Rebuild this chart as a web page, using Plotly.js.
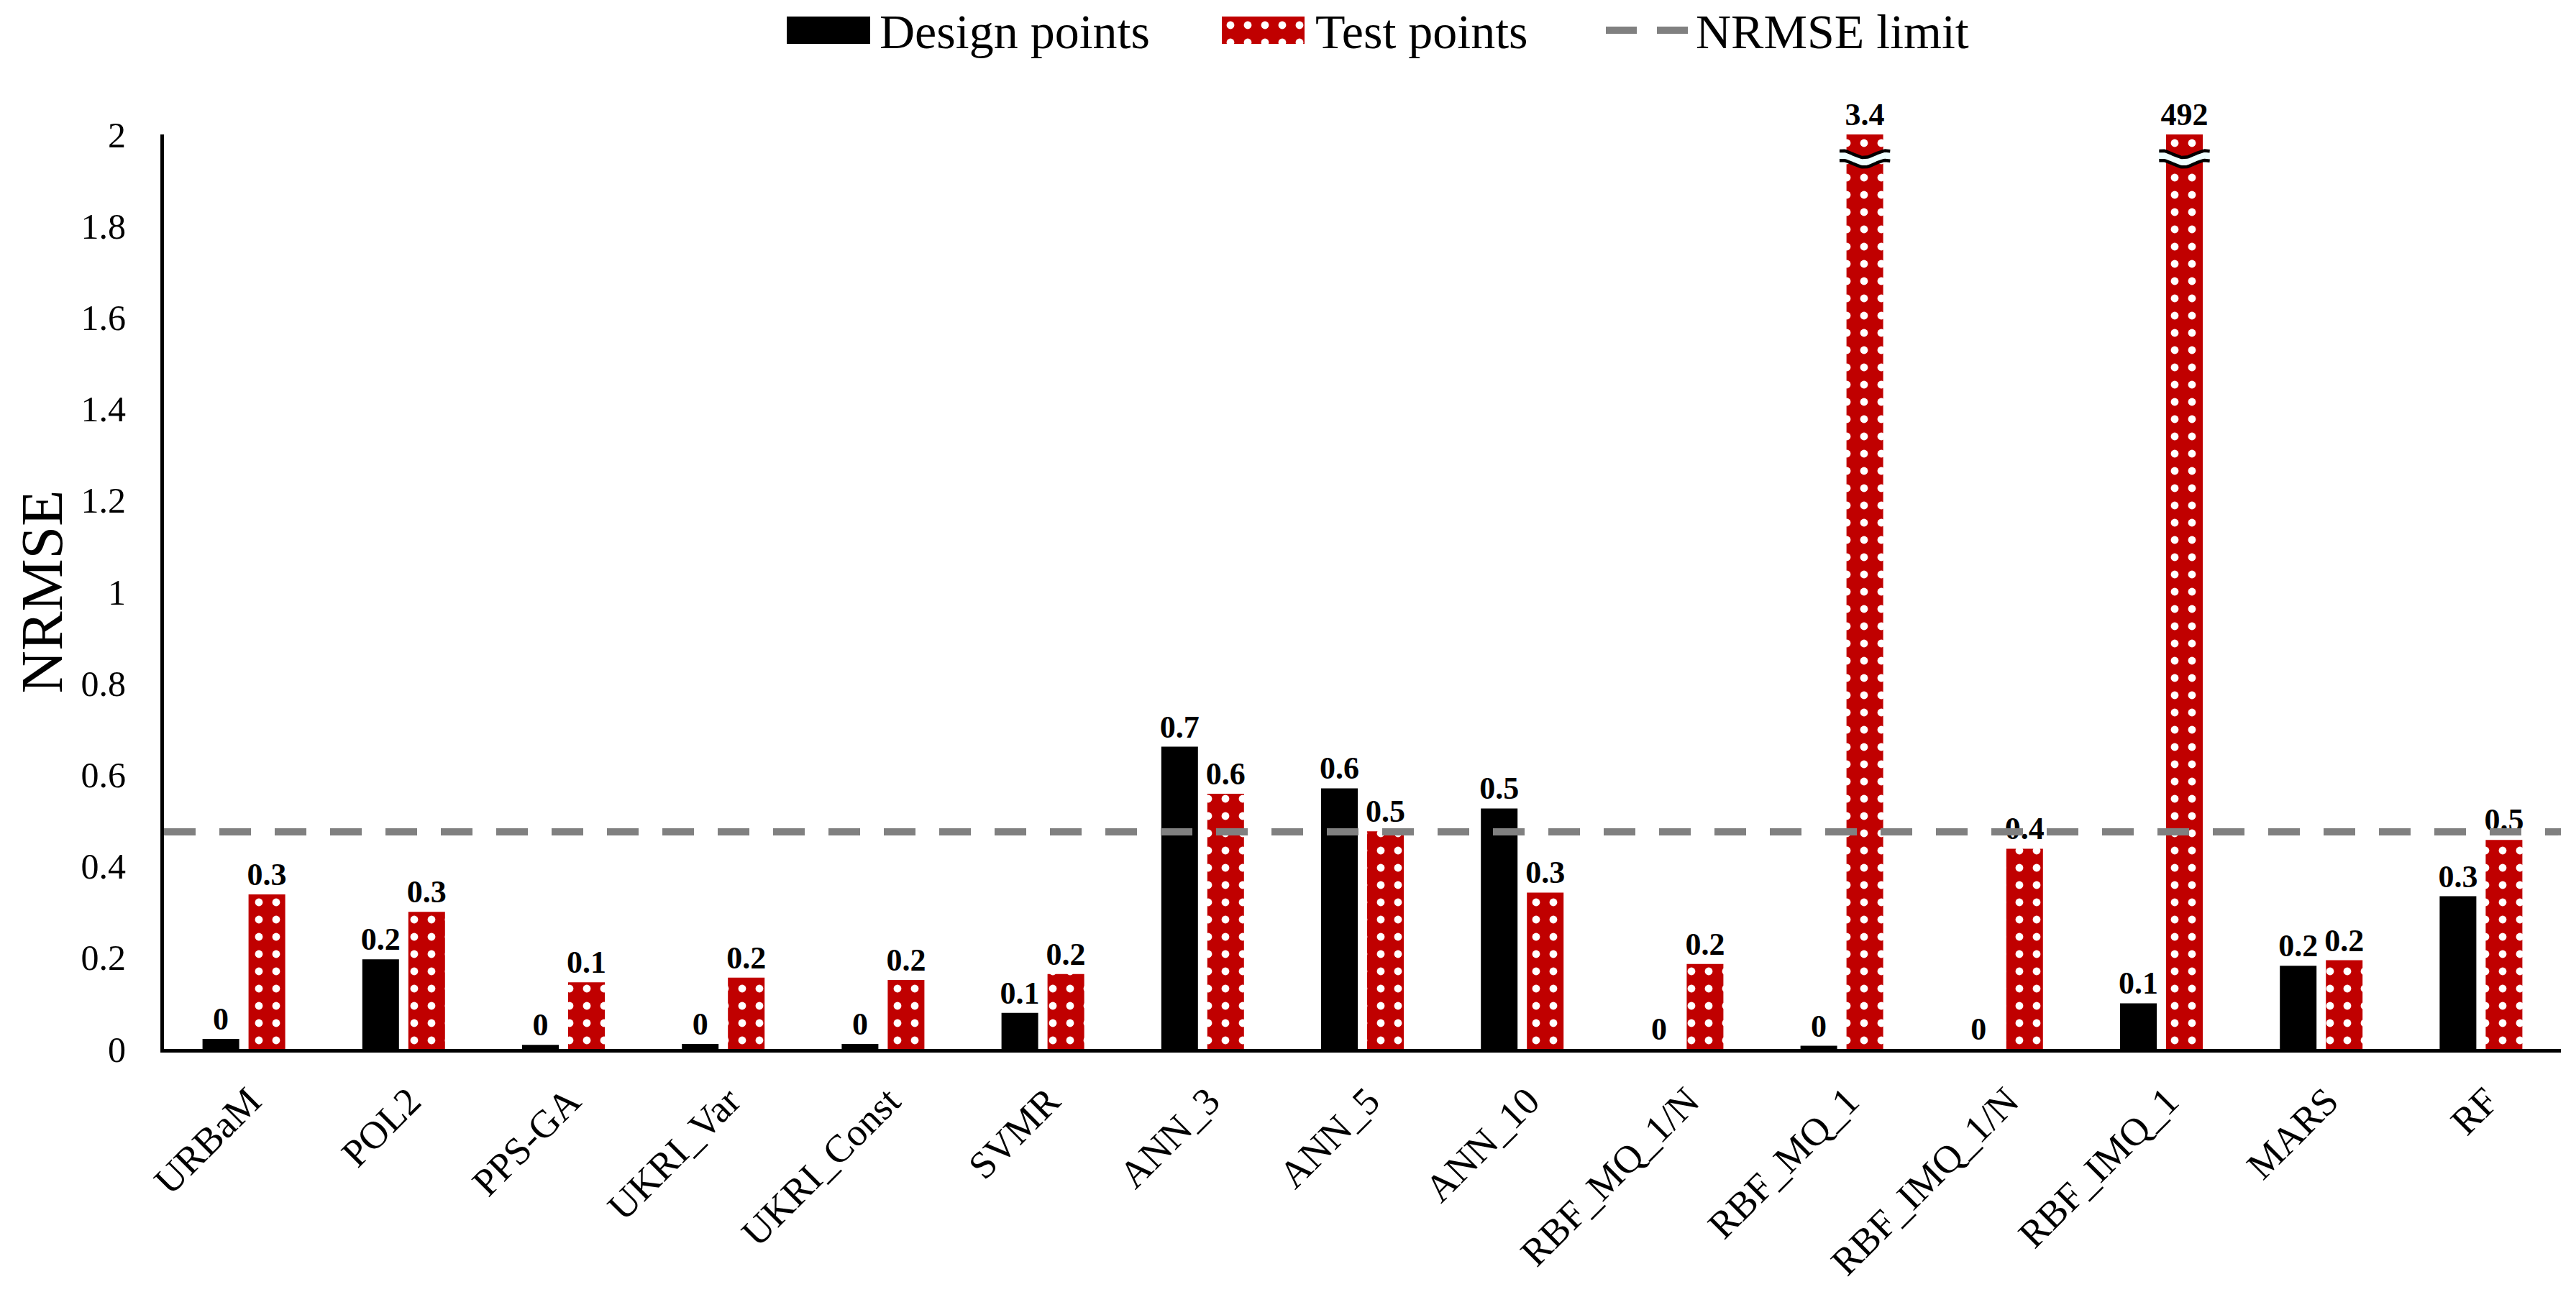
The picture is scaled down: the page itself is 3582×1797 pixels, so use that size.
<!DOCTYPE html>
<html><head><meta charset="utf-8">
<script src="https://cdn.plot.ly/plotly-3.0.1.min.js"></script>
<style>html,body{margin:0;padding:0;background:#fff}</style>
</head><body>
<div id="chart" style="width:3582px;height:1797px"></div>
<script>
// ---- data ----
const categories = ['URBaM','POL2','PPS-GA','UKRI_Var','UKRI_Const','SVMR','ANN_3','ANN_5','ANN_10','RBF_MQ_1/N','RBF_MQ_1','RBF_IMQ_1/N','RBF_IMQ_1','MARS','RF'];
const designValues = [0.022,0.196,0.009,0.011,0.011,0.079,0.661,0.570,0.526,0.0,0.007,0.0,0.100,0.182,0.334];
const testValues   = [0.338,0.300,0.146,0.156,0.151,0.164,0.558,0.476,0.342,0.186,3.4,0.438,492,0.194,0.457];
const nrmseLimit = 0.475;
const yTickVals = [0,0.2,0.4,0.6,0.8,1,1.2,1.4,1.6,1.8,2];
const yTickText = ['0','0.2','0.4','0.6','0.8','1','1.2','1.4','1.6','1.8','2'];
const legendNames = ['Design points','Test points','NRMSE limit'];
const axisMax = 2;

// ---- geometry ----
const W = 3582, H = 1797;
const M = {l:228, r:21, t:10, b:338};
const PW = W - M.l - M.r, PH = H - M.t - M.b;
const px2x = px => (px - M.l) / PW;
const px2y = py => (H - M.b - py) / PH;
const plotTop = 187;
const bargap = 0.424, bargroupgap = 0.203;
const slot = (1 - bargap) / 2;

const fmt = v => String(Math.round(v * 10) / 10);
const serif = 'Liberation Serif';
const redPattern = {shape:'.', bgcolor:'#C00000', fgcolor:'#ffffff', size:24, solidity:0.16, fillmode:'replace'};
const labelFont = {family:serif, size:44, color:'#000', weight:'bold'};

const traces = [];
traces.push({
  type:'bar', x:categories, y:designValues, name:legendNames[0],
  marker:{color:'#000000', line:{width:0}},
  text:designValues.map(fmt), textposition:'outside', cliponaxis:false, constraintext:'none',
  textfont:labelFont, outsidetextfont:labelFont, hoverinfo:'skip'
});
traces.push({
  type:'bar', x:categories, y:testValues.map(v => Math.min(v, axisMax)), name:legendNames[1],
  marker:{color:'#C00000', pattern:redPattern, line:{width:0}},
  text:testValues.map(fmt), textposition:'outside', cliponaxis:false, constraintext:'none',
  textfont:labelFont, outsidetextfont:labelFont, hoverinfo:'skip'
});
// NRMSE limit line
traces.push({
  type:'scatter', mode:'lines', xaxis:'x2', yaxis:'y', name:legendNames[2],
  x:[-0.5, categories.length - 0.5], y:[nrmseLimit, nrmseLimit],
  line:{color:'#808080', width:10, dash:'44px,33px'}, hoverinfo:'skip'
});
// axis-break marks on bars beyond axis max
testValues.forEach((v, i) => {
  if (v <= axisMax) return;
  const cx = i + slot / 2, hw = slot / 2 * 1.1;
  const N = 40, amp = 0.0075;
  const up = [], lo = [], xs = [];
  for (let k = 0; k <= N; k++) {
    const t = k / N;
    xs.push(cx - hw + 2 * hw * t);
    const w = Math.sin(2 * Math.PI * 1.15 * t + 1.2);
    up.push(1.957 + amp * w);
    lo.push(1.936 + amp * w);
  }
  traces.push({type:'scatter', mode:'lines', xaxis:'x2', yaxis:'y', x:xs.concat(xs.slice().reverse()),
    y:up.concat(lo.slice().reverse()), fill:'toself', fillcolor:'#EFFFFF', line:{width:0}, hoverinfo:'skip'});
  traces.push({type:'scatter', mode:'lines', xaxis:'x2', yaxis:'y', x:xs, y:up, line:{color:'#000', width:4.5}, hoverinfo:'skip'});
  traces.push({type:'scatter', mode:'lines', xaxis:'x2', yaxis:'y', x:xs, y:lo, line:{color:'#000', width:4.5}, hoverinfo:'skip'});
});
// legend swatch for the patterned series
traces.push({type:'bar', xaxis:'x3', yaxis:'y3', x:[0], y:[1], width:[1],
  marker:{color:'#C00000', pattern:redPattern, line:{width:0}}, hoverinfo:'skip'});

const legY = px2y(44);
const legFont = {family:serif, size:68, color:'#000'};
const layout = {
  width:W, height:H, margin:M, showlegend:false,
  paper_bgcolor:'#fff', plot_bgcolor:'#fff',
  barmode:'group', bargap:bargap, bargroupgap:bargroupgap,
  font:{family:serif, color:'#000'},
  xaxis:{type:'category', range:[-0.5, categories.length - 0.5], tickangle:-45,
    tickfont:{family:serif, size:54, color:'#000'}, showline:true, linecolor:'#000', linewidth:5,
    showgrid:false, zeroline:false, ticks:'', ticklabelstandoff:14, ticklabelshift:8, fixedrange:true},
  xaxis2:{overlaying:'x', range:[-0.5, categories.length - 0.5], visible:false, fixedrange:true},
  yaxis:{domain:[0, px2y(plotTop)], range:[0, axisMax], tickvals:yTickVals, ticktext:yTickText,
    tickfont:{family:serif, size:50, color:'#000'}, showline:true, linecolor:'#000', linewidth:5,
    showgrid:false, zeroline:false, ticks:'', ticklabelstandoff:38, fixedrange:true,
    title:{text:'NRMSE', font:{family:serif, size:82, color:'#000'}, standoff:0}},
  xaxis3:{domain:[px2x(1699), px2x(1814)], range:[-0.5,0.5], visible:false, anchor:'y3', fixedrange:true},
  yaxis3:{domain:[px2y(61), px2y(23)], range:[0,1], visible:false, anchor:'x3', fixedrange:true},
  shapes:[
    {type:'rect', xref:'paper', yref:'paper', x0:px2x(1094), x1:px2x(1210), y0:px2y(61), y1:px2y(23),
      fillcolor:'#000', line:{width:0}},
    {type:'line', xref:'paper', yref:'paper', x0:px2x(2233), x1:px2x(2347), y0:px2y(42), y1:px2y(42),
      line:{color:'#808080', width:10, dash:'43px,28px'}}
  ],
  annotations:[
    {xref:'paper', yref:'paper', x:px2x(1221), y:legY, xanchor:'left', yanchor:'middle', showarrow:false,
      text:legendNames[0], font:legFont},
    {xref:'paper', yref:'paper', x:px2x(1827), y:legY, xanchor:'left', yanchor:'middle', showarrow:false,
      text:legendNames[1], font:legFont},
    {xref:'paper', yref:'paper', x:px2x(2356), y:legY, xanchor:'left', yanchor:'middle', showarrow:false,
      text:legendNames[2], font:legFont}
  ]
};
Plotly.newPlot('chart', traces, layout, {staticPlot:true, displayModeBar:false});
</script>
</body></html>
